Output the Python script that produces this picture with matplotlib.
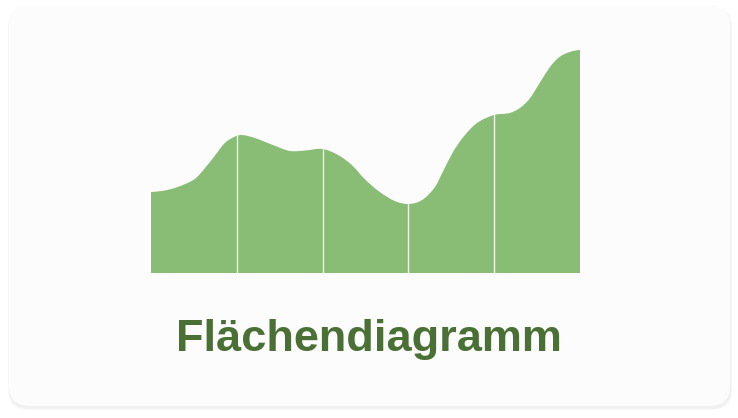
import numpy as np
import matplotlib
matplotlib.use("Agg")
import matplotlib.pyplot as plt
from matplotlib.path import Path
from matplotlib.patches import PathPatch, FancyBboxPatch

# ---- data ----
# sample positions in category units (0..5) and area heights
sample_x = [0.0, 0.16, 0.31, 0.51, 0.63, 0.75, 0.86, 0.98, 1.06, 1.21, 1.45,
            1.62, 1.80, 2.0, 2.18, 2.34, 2.49, 2.65, 2.84, 3.0, 3.16,
            3.31, 3.40, 3.52, 3.64, 3.80, 4.0, 4.18, 4.30, 4.41, 4.53, 4.65,
            4.76, 4.88, 5.0]
sample_y = [81, 82.5, 86, 94, 105, 118, 130, 136.5, 138, 135, 127,
            122, 122.5, 124, 118, 108, 94, 82, 72, 69, 73,
            86, 101, 121, 136, 150, 158, 160, 165, 174, 190, 206,
            216, 221, 223]
divider_x = [1, 2, 3, 4]
title = "Flächendiagramm"

W, H = 738, 418
fig = plt.figure(figsize=(W / 100, H / 100), dpi=100)
fig.patch.set_facecolor("white")

# card background with soft shadow
bg = fig.add_axes([0, 0, 1, 1])
bg.set_xlim(0, W)
bg.set_ylim(H, 0)
bg.axis("off")
for i, a in enumerate([0.008, 0.012, 0.016, 0.022]):
    off = 4 - i
    sh = FancyBboxPatch((9 - off * 0.5 + 0.5, 5 + 2), 721 + off, 401 + off * 0.6,
                        boxstyle="round,pad=0,rounding_size=20",
                        fc="black", ec="none", alpha=a)
    bg.add_patch(sh)
card = FancyBboxPatch((9, 5), 721, 401, boxstyle="round,pad=0,rounding_size=20",
                      fc="#fcfcfc", ec="none")
bg.add_patch(card)
bg.text(369, 340, title, ha="center", va="center", fontsize=32.5,
        fontweight="bold", color="#4a7035", family=["Liberation Sans", "DejaVu Sans"])

# chart area
ax = fig.add_axes([151 / W, (H - 273) / H, 429 / W, 224 / H])
ax.set_xlim(0, 5)
ax.set_ylim(0, 224)
ax.axis("off")

# smooth cubic Hermite curve through the sampled values, as a bezier path
px = np.array(sample_x, float)
py = np.array(sample_y, float)
n = len(px)
m = np.zeros(n)
m[0] = (py[1] - py[0]) / (px[1] - px[0])
m[-1] = (py[-1] - py[-2]) / (px[-1] - px[-2])
for i in range(1, n - 1):
    m[i] = (py[i + 1] - py[i - 1]) / (px[i + 1] - px[i - 1])
m[0] *= 0.5
m[-1] *= 0.3
verts = [(px[0], 0), (px[0], py[0])]
codes = [Path.MOVETO, Path.LINETO]
for i in range(n - 1):
    dx = px[i + 1] - px[i]
    c1 = (px[i] + dx / 3, py[i] + m[i] * dx / 3)
    c2 = (px[i + 1] - dx / 3, py[i + 1] - m[i + 1] * dx / 3)
    verts += [c1, c2, (px[i + 1], py[i + 1])]
    codes += [Path.CURVE4] * 3
verts += [(px[-1], 0), (px[0], 0)]
codes += [Path.LINETO, Path.CLOSEPOLY]
area = PathPatch(Path(verts, codes), fc="#89bd76", ec="none")
ax.add_patch(area)

for xd in divider_x:
    ln = ax.axvline(xd, color="white", lw=1.0, alpha=0.85)
    ln.set_clip_path(area)

fig.savefig("out.png", dpi=100, facecolor="white")
